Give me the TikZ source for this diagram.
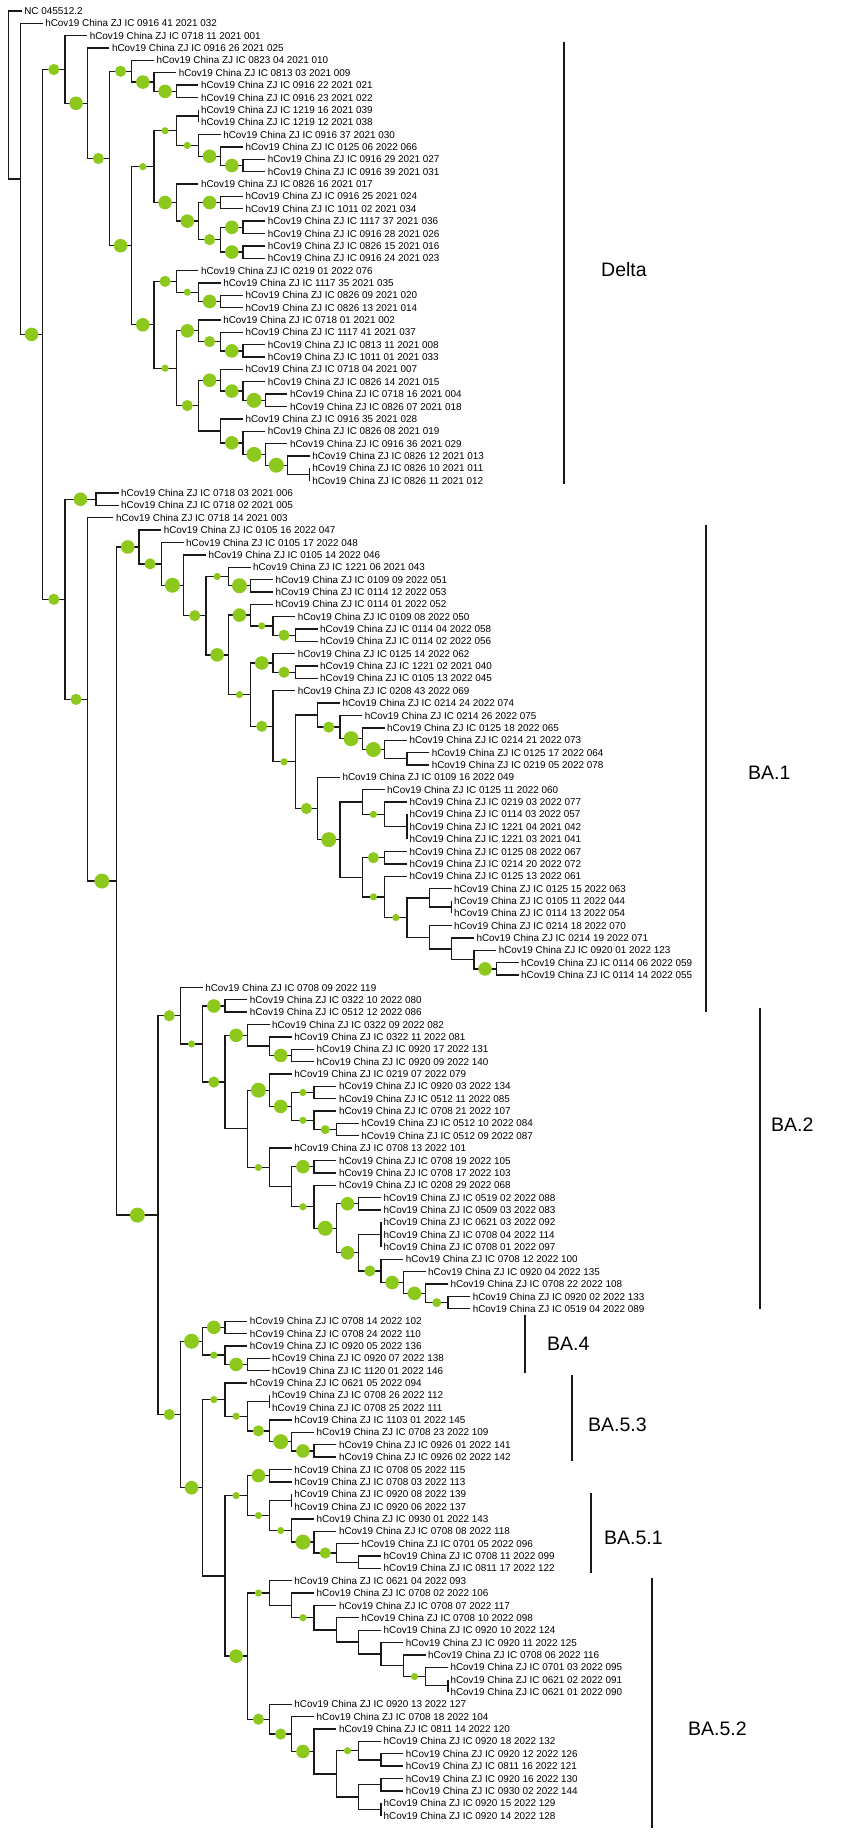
\documentclass[tikz,border=0pt]{standalone}
\usepackage{fontspec}
\setmainfont{Liberation Sans}
\usetikzlibrary{calc}
\pgfdeclarelayer{fg}
\pgfsetlayers{main,fg}
\definecolor{bsg}{RGB}{141,200,28}
\definecolor{ln}{RGB}{25,25,25}
\tikzset{
  br/.style={draw=ln, line width=1.35pt, line join=miter},
  lab/.style={anchor=west, inner xsep=2.4pt, inner ysep=0pt, font=\fontsize{9.9}{10}\selectfont, text height=7.1pt, text depth=0pt},
  cbar/.style={draw=ln, line width=1.5pt},
  clab/.style={anchor=west, inner sep=0pt, font=\fontsize{19.5}{20}\selectfont},
  bS/.style={circle, fill=bsg, inner sep=0pt, minimum size=7.2pt},
  bP/.style={circle, fill=bsg, inner sep=0pt, minimum size=9pt},
  bM/.style={circle, fill=bsg, inner sep=0pt, minimum size=11.2pt},
  bL/.style={circle, fill=bsg, inner sep=0pt, minimum size=13.6pt},
  bX/.style={circle, fill=bsg, inner sep=0pt, minimum size=15pt},
}
\newcommand\leafx[3]{\coordinate (l#1) at (#2,{11+12.36*#1}); \node[lab] (t#1) at (l#1) {hCov19 China ZJ IC #3};}
\newcommand\inode[4]{\path let \p1=(#3),\p2=(#4) in coordinate (#1) at (#2pt,{0.5*(\y1+\y2)}); \draw[br] (#3) -| (#1) |- (#4);}
\newcommand\supp[3]{\begin{pgfonlayer}{fg}\path let \p1=(#1),\p2=(#2) in node[#3] (c#2) at ({0.5*(\x1+\x2)},\y2) {};\end{pgfonlayer}}
\begin{document}
\begin{tikzpicture}[x=1pt,y=-1pt]
\fill[white] (0,0) rectangle (851,1838);
\useasboundingbox (0,0) rectangle (851,1838);
% leaves
\coordinate (l0) at (21.7,11); \node[lab] (t0) at (l0) {NC 045512.2};
\leafx{1}{42.7}{0916 41 2021 032}
\leafx{2}{87.2}{0718 11 2021 001}
\leafx{3}{109.45}{0916 26 2021 025}
\leafx{4}{153.95}{0823 04 2021 010}
\leafx{5}{176.2}{0813 03 2021 009}
\leafx{6}{198.45}{0916 22 2021 021}
\leafx{7}{198.45}{0916 23 2021 022}
\leafx{8}{198.45}{1219 16 2021 039}
\leafx{9}{198.45}{1219 12 2021 038}
\leafx{10}{220.7}{0916 37 2021 030}
\leafx{11}{242.95}{0125 06 2022 066}
\leafx{12}{265.2}{0916 29 2021 027}
\leafx{13}{265.2}{0916 39 2021 031}
\leafx{14}{198.45}{0826 16 2021 017}
\leafx{15}{242.95}{0916 25 2021 024}
\leafx{16}{242.95}{1011 02 2021 034}
\leafx{17}{265.2}{1117 37 2021 036}
\leafx{18}{265.2}{0916 28 2021 026}
\leafx{19}{265.2}{0826 15 2021 016}
\leafx{20}{265.2}{0916 24 2021 023}
\leafx{21}{198.45}{0219 01 2022 076}
\leafx{22}{220.7}{1117 35 2021 035}
\leafx{23}{242.95}{0826 09 2021 020}
\leafx{24}{242.95}{0826 13 2021 014}
\leafx{25}{220.7}{0718 01 2021 002}
\leafx{26}{242.95}{1117 41 2021 037}
\leafx{27}{265.2}{0813 11 2021 008}
\leafx{28}{265.2}{1011 01 2021 033}
\leafx{29}{242.95}{0718 04 2021 007}
\leafx{30}{265.2}{0826 14 2021 015}
\leafx{31}{287.45}{0718 16 2021 004}
\leafx{32}{287.45}{0826 07 2021 018}
\leafx{33}{242.95}{0916 35 2021 028}
\leafx{34}{265.2}{0826 08 2021 019}
\leafx{35}{287.45}{0916 36 2021 029}
\leafx{36}{309.7}{0826 12 2021 013}
\leafx{37}{309.7}{0826 10 2021 011}
\leafx{38}{309.7}{0826 11 2021 012}
\leafx{39}{118.6}{0718 03 2021 006}
\leafx{40}{118.6}{0718 02 2021 005}
\leafx{41}{113.4}{0718 14 2021 003}
\leafx{42}{161.2}{0105 16 2022 047}
\leafx{43}{183.6}{0105 17 2022 048}
\leafx{44}{205.9}{0105 14 2022 046}
\leafx{45}{250.6}{1221 06 2021 043}
\leafx{46}{272.9}{0109 09 2022 051}
\leafx{47}{272.9}{0114 12 2022 053}
\leafx{48}{272.9}{0114 01 2022 052}
\leafx{49}{295.2}{0109 08 2022 050}
\leafx{50}{317.6}{0114 04 2022 058}
\leafx{51}{317.6}{0114 02 2022 056}
\leafx{52}{295.2}{0125 14 2022 062}
\leafx{53}{317.6}{1221 02 2021 040}
\leafx{54}{317.6}{0105 13 2022 045}
\leafx{55}{295.2}{0208 43 2022 069}
\leafx{56}{339.9}{0214 24 2022 074}
\leafx{57}{362.2}{0214 26 2022 075}
\leafx{58}{384.6}{0125 18 2022 065}
\leafx{59}{406.9}{0214 21 2022 073}
\leafx{60}{429.2}{0125 17 2022 064}
\leafx{61}{429.2}{0219 05 2022 078}
\leafx{62}{339.9}{0109 16 2022 049}
\leafx{63}{384.6}{0125 11 2022 060}
\leafx{64}{406.9}{0219 03 2022 077}
\leafx{65}{406.9}{0114 03 2022 057}
\leafx{66}{406.9}{1221 04 2021 042}
\leafx{67}{406.9}{1221 03 2021 041}
\leafx{68}{406.9}{0125 08 2022 067}
\leafx{69}{406.9}{0214 20 2022 072}
\leafx{70}{406.9}{0125 13 2022 061}
\leafx{71}{451.6}{0125 15 2022 063}
\leafx{72}{451.6}{0105 11 2022 044}
\leafx{73}{451.6}{0114 13 2022 054}
\leafx{74}{451.6}{0214 18 2022 070}
\leafx{75}{473.9}{0214 19 2022 071}
\leafx{76}{496.2}{0920 01 2022 123}
\leafx{77}{518.5}{0114 06 2022 059}
\leafx{78}{518.5}{0114 14 2022 055}
\leafx{79}{202.7}{0708 09 2022 119}
\leafx{80}{247.3}{0322 10 2022 080}
\leafx{81}{247.3}{0512 12 2022 086}
\leafx{82}{269.6}{0322 09 2022 082}
\leafx{83}{291.8}{0322 11 2022 081}
\leafx{84}{314.1}{0920 17 2022 131}
\leafx{85}{314.1}{0920 09 2022 140}
\leafx{86}{291.8}{0219 07 2022 079}
\leafx{87}{336.4}{0920 03 2022 134}
\leafx{88}{336.4}{0512 11 2022 085}
\leafx{89}{336.4}{0708 21 2022 107}
\leafx{90}{358.7}{0512 10 2022 084}
\leafx{91}{358.7}{0512 09 2022 087}
\leafx{92}{291.8}{0708 13 2022 101}
\leafx{93}{336.4}{0708 19 2022 105}
\leafx{94}{336.4}{0708 17 2022 103}
\leafx{95}{336.4}{0208 29 2022 068}
\leafx{96}{381.0}{0519 02 2022 088}
\leafx{97}{381.0}{0509 03 2022 083}
\leafx{98}{381.0}{0621 03 2022 092}
\leafx{99}{381.0}{0708 04 2022 114}
\leafx{100}{381.0}{0708 01 2022 097}
\leafx{101}{403.3}{0708 12 2022 100}
\leafx{102}{425.6}{0920 04 2022 135}
\leafx{103}{447.9}{0708 22 2022 108}
\leafx{104}{470.2}{0920 02 2022 133}
\leafx{105}{470.2}{0519 04 2022 089}
\leafx{106}{247.3}{0708 14 2022 102}
\leafx{107}{247.3}{0708 24 2022 110}
\leafx{108}{247.3}{0920 05 2022 136}
\leafx{109}{269.6}{0920 07 2022 138}
\leafx{110}{269.6}{1120 01 2022 146}
\leafx{111}{247.3}{0621 05 2022 094}
\leafx{112}{269.6}{0708 26 2022 112}
\leafx{113}{269.6}{0708 25 2022 111}
\leafx{114}{291.8}{1103 01 2022 145}
\leafx{115}{314.1}{0708 23 2022 109}
\leafx{116}{336.4}{0926 01 2022 141}
\leafx{117}{336.4}{0926 02 2022 142}
\leafx{118}{291.8}{0708 05 2022 115}
\leafx{119}{291.8}{0708 03 2022 113}
\leafx{120}{291.8}{0920 08 2022 139}
\leafx{121}{291.8}{0920 06 2022 137}
\leafx{122}{314.1}{0930 01 2022 143}
\leafx{123}{336.4}{0708 08 2022 118}
\leafx{124}{358.7}{0701 05 2022 096}
\leafx{125}{381.0}{0708 11 2022 099}
\leafx{126}{381.0}{0811 17 2022 122}
\leafx{127}{291.8}{0621 04 2022 093}
\leafx{128}{314.1}{0708 02 2022 106}
\leafx{129}{336.4}{0708 07 2022 117}
\leafx{130}{358.7}{0708 10 2022 098}
\leafx{131}{381.0}{0920 10 2022 124}
\leafx{132}{403.3}{0920 11 2022 125}
\leafx{133}{425.6}{0708 06 2022 116}
\leafx{134}{447.9}{0701 03 2022 095}
\leafx{135}{447.9}{0621 02 2022 091}
\leafx{136}{447.9}{0621 01 2022 090}
\leafx{137}{291.8}{0920 13 2022 127}
\leafx{138}{314.1}{0708 18 2022 104}
\leafx{139}{336.4}{0811 14 2022 120}
\leafx{140}{381.0}{0920 18 2022 132}
\leafx{141}{403.3}{0920 12 2022 126}
\leafx{142}{403.3}{0811 16 2022 121}
\leafx{143}{403.3}{0920 16 2022 130}
\leafx{144}{403.3}{0930 02 2022 144}
\leafx{145}{381.0}{0920 15 2022 129}
\leafx{146}{381.0}{0920 14 2022 128}
% Delta clade
\inode{G3}{176.2}{l6}{l7}
\inode{G2}{153.95}{l5}{G3}
\inode{G}{131.7}{l4}{G2}
\inode{Z1}{198.45}{l8}{l9}
\inode{H1e}{242.95}{l12}{l13}
\inode{H1d}{220.7}{l11}{H1e}
\inode{H1c}{198.45}{l10}{H1d}
\inode{H1a}{176.2}{Z1}{H1c}
\inode{H1g}{220.7}{l15}{l16}
\inode{H1i}{242.95}{l17}{l18}
\inode{H1j}{242.95}{l19}{l20}
\inode{H1h}{220.7}{H1i}{H1j}
\inode{H1f}{198.45}{H1g}{H1h}
\inode{H1b}{176.2}{l14}{H1f}
\inode{H1}{153.95}{H1a}{H1b}
\inode{H2e}{220.7}{l23}{l24}
\inode{H2d}{198.45}{l22}{H2e}
\inode{H2a}{176.2}{l21}{H2d}
\inode{H2i}{242.95}{l27}{l28}
\inode{H2h}{220.7}{l26}{H2i}
\inode{H2f}{198.45}{l25}{H2h}
\inode{H2n}{265.2}{l31}{l32}
\inode{H2m}{242.95}{l30}{H2n}
\inode{H2j}{220.7}{l29}{H2m}
\inode{Z2}{309.7}{l37}{l38}
\inode{H2p}{287.45}{l36}{Z2}
\inode{H2o}{265.2}{l35}{H2p}
\inode{H2l}{242.95}{l34}{H2o}
\inode{H2k}{220.7}{l33}{H2l}
\inode{H2g}{198.45}{H2j}{H2k}
\inode{H2b}{176.2}{H2f}{H2g}
\inode{H2}{153.95}{H2a}{H2b}
\inode{H}{131.7}{H1}{H2}
\inode{F}{109.45}{G}{H}
\inode{E}{87.2}{l3}{F}
\inode{C}{64.95}{l2}{E}
\inode{D1}{96}{l39}{l40}
% BA.1 clade
\inode{E1f}{250.6}{l46}{l47}
\inode{E1d}{228.3}{l45}{E1f}
\inode{E1j}{295.2}{l50}{l51}
\inode{E1i}{272.9}{l49}{E1j}
\inode{E1g}{250.6}{l48}{E1i}
\inode{E1m}{295.2}{l53}{l54}
\inode{E1k}{272.9}{l52}{E1m}
\inode{E1t}{406.9}{l60}{l61}
\inode{E1s}{384.6}{l59}{E1t}
\inode{E1r}{362.2}{l58}{E1s}
\inode{E1q}{339.9}{l57}{E1r}
\inode{E1o}{317.6}{l56}{E1q}
\inode{Z3}{406.9}{l65}{l67}
\inode{E1w}{384.6}{l64}{Z3}
\inode{E1v}{362.2}{l63}{E1w}
\inode{E1y}{384.6}{l68}{l69}
\inode{Z4}{451.6}{l72}{l73}
\inode{E2b}{429.2}{l71}{Z4}
\inode{E2f}{496.2}{l77}{l78}
\inode{E2e}{473.9}{l76}{E2f}
\inode{E2d}{451.6}{l75}{E2e}
\inode{E2c}{429.2}{l74}{E2d}
\inode{E2a}{406.9}{E2b}{E2c}
\inode{E1z}{384.6}{l70}{E2a}
\inode{E1x}{362.2}{E1y}{E1z}
\inode{E1u}{339.9}{E1v}{E1x}
\inode{E1p}{317.6}{l62}{E1u}
\inode{E1n}{295.2}{E1o}{E1p}
\inode{E1l}{272.9}{l55}{E1n}
\inode{E1h}{250.6}{E1k}{E1l}
\inode{E1e}{228.3}{E1g}{E1h}
\inode{E1c}{205.9}{E1d}{E1e}
\inode{E1b}{183.6}{l44}{E1c}
\inode{E1a}{161.3}{l43}{E1b}
\inode{E1}{138.9}{l42}{E1a}
% BA.2 clade
\inode{F1b}{225.0}{l80}{l81}
\inode{F1g}{291.8}{l84}{l85}
\inode{F1f}{269.6}{l83}{F1g}
\inode{F1d}{247.3}{l82}{F1f}
\inode{F1k}{314.1}{l87}{l88}
\inode{F1m}{336.4}{l90}{l91}
\inode{F1l}{314.1}{l89}{F1m}
\inode{F1j}{291.8}{F1k}{F1l}
\inode{F1h}{269.6}{l86}{F1j}
\inode{F1o}{314.1}{l93}{l94}
\inode{F1s}{358.7}{l96}{l97}
\inode{Z5}{381.0}{l98}{l100}
\inode{F1x}{447.9}{l104}{l105}
\inode{F1w}{425.6}{l103}{F1x}
\inode{F1v}{403.3}{l102}{F1w}
\inode{F1u}{381.0}{l101}{F1v}
\inode{F1t}{358.7}{Z5}{F1u}
\inode{F1r}{336.4}{F1s}{F1t}
\inode{F1q}{314.1}{l95}{F1r}
\inode{F1p}{291.8}{F1o}{F1q}
\inode{F1i}{269.6}{l92}{F1p}
\inode{F1e}{247.3}{F1h}{F1i}
\inode{F1c}{225.0}{F1d}{F1e}
\inode{F1a}{202.7}{F1b}{F1c}
\inode{F1}{180.4}{l79}{F1a}
% BA.4
\inode{F2c}{225.0}{l106}{l107}
\inode{F2e}{247.3}{l109}{l110}
\inode{F2d}{225.0}{l108}{F2e}
\inode{F2a}{202.7}{F2c}{F2d}
% BA.5.3
\inode{Z6}{269.6}{l112}{l113}
\inode{F2k}{314.1}{l116}{l117}
\inode{F2j}{291.8}{l115}{F2k}
\inode{F2i}{269.6}{l114}{F2j}
\inode{F2h}{247.3}{Z6}{F2i}
\inode{F2f}{225.0}{l111}{F2h}
% BA.5.1
\inode{F2n}{269.6}{l118}{l119}
\inode{Z7}{291.8}{l120}{l121}
\inode{F2s}{358.7}{l125}{l126}
\inode{F2r}{336.4}{l124}{F2s}
\inode{F2q}{314.1}{l123}{F2r}
\inode{F2p}{291.8}{l122}{F2q}
\inode{F2o}{269.6}{Z7}{F2p}
\inode{F2l}{247.3}{F2n}{F2o}
% BA.5.2
\inode{Z8}{447.9}{l135}{l136}
\inode{G2b}{425.6}{l134}{Z8}
\inode{G1}{403.3}{l133}{G2b}
\inode{F2z}{381.0}{l132}{G1}
\inode{F2y}{358.7}{l131}{F2z}
\inode{F2x}{336.4}{l130}{F2y}
\inode{F2v}{314.1}{l129}{F2x}
\inode{F2w}{291.8}{l128}{F2v}
\inode{F2t}{269.6}{l127}{F2w}
\inode{F3f}{381.0}{l141}{l142}
\inode{F3d}{358.7}{l140}{F3f}
\inode{F3g}{381.0}{l143}{l144}
\inode{Z9}{381.0}{l145}{l146}
\inode{F3e}{358.7}{F3g}{Z9}
\inode{F3c}{336.4}{F3d}{F3e}
\inode{F3b}{314.1}{l139}{F3c}
\inode{F3a}{291.8}{l138}{F3b}
\inode{F2u}{269.6}{l137}{F3a}
\inode{F2m}{247.3}{F2t}{F2u}
\inode{F2g}{225.0}{F2l}{F2m}
\inode{F2b}{202.7}{F2f}{F2g}
\inode{F2}{180.4}{F2a}{F2b}
\inode{E2}{158.1}{F1}{F2}
\inode{D3}{116.6}{E1}{E2}
\inode{D2}{87.2}{l41}{D3}
\inode{D}{64.95}{D1}{D2}
\inode{B}{42.7}{C}{D}
\inode{A}{20.45}{l1}{B}
\inode{R}{8.7}{l0}{A}
% support circles (parent, child, size)
\supp{G2}{G3}{bL} \supp{G}{G2}{bL} \supp{F}{G}{bM}
\supp{H1d}{H1e}{bL} \supp{H1c}{H1d}{bL} \supp{H1a}{H1c}{bS} \supp{H1}{H1a}{bS}
\supp{H1f}{H1g}{bL} \supp{H1h}{H1i}{bL} \supp{H1h}{H1j}{bL} \supp{H1f}{H1h}{bM}
\supp{H1b}{H1f}{bL} \supp{H1}{H1b}{bL} \supp{H}{H1}{bS}
\supp{H2d}{H2e}{bL} \supp{H2a}{H2d}{bS} \supp{H2}{H2a}{bM}
\supp{H2h}{H2i}{bL} \supp{H2f}{H2h}{bM} \supp{H2b}{H2f}{bL}
\supp{H2m}{H2n}{bX} \supp{H2j}{H2m}{bL} \supp{H2g}{H2j}{bL}
\supp{H2o}{H2p}{bX} \supp{H2l}{H2o}{bX} \supp{H2k}{H2l}{bL}
\supp{H2b}{H2g}{bM} \supp{H2}{H2b}{bS} \supp{H}{H2}{bL}
\supp{F}{H}{bL} \supp{E}{F}{bM} \supp{C}{E}{bL} \supp{B}{C}{bM}
\supp{D}{D1}{bL}
\supp{E1d}{E1f}{bX} \supp{E1c}{E1d}{bS} \supp{E1i}{E1j}{bM} \supp{E1g}{E1i}{bS}
\supp{E1e}{E1g}{bL} \supp{E1k}{E1m}{bM} \supp{E1h}{E1k}{bL}
\supp{E1r}{E1s}{bX} \supp{E1q}{E1r}{bX} \supp{E1o}{E1q}{bM}
\supp{E1v}{E1w}{bS} \supp{E1x}{E1y}{bM} \supp{E2e}{E2f}{bL}
\supp{E1z}{E2a}{bS} \supp{E1x}{E1z}{bS} \supp{E1p}{E1u}{bX}
\supp{E1n}{E1p}{bM} \supp{E1l}{E1n}{bS} \supp{E1h}{E1l}{bM}
\supp{E1e}{E1h}{bS} \supp{E1c}{E1e}{bL} \supp{E1b}{E1c}{bM}
\supp{E1a}{E1b}{bX} \supp{E1}{E1a}{bM} \supp{D3}{E1}{bL}
\supp{F1a}{F1b}{bL} \supp{F1f}{F1g}{bL} \supp{F1c}{F1d}{bL}
\supp{F1j}{F1k}{bS} \supp{F1l}{F1m}{bP} \supp{F1j}{F1l}{bS}
\supp{F1h}{F1j}{bL} \supp{F1e}{F1h}{bX} \supp{F1p}{F1o}{bL}
\supp{F1r}{F1s}{bL} \supp{F1w}{F1x}{bP} \supp{F1v}{F1w}{bL}
\supp{F1u}{F1v}{bL} \supp{F1t}{F1u}{bM} \supp{F1r}{F1t}{bL}
\supp{F1q}{F1r}{bX} \supp{F1p}{F1q}{bS} \supp{F1e}{F1i}{bS}
\supp{F1a}{F1c}{bM} \supp{F1}{F1a}{bS} \supp{E2}{F1}{bM}
\supp{F2a}{F2c}{bL} \supp{F2d}{F2e}{bL} \supp{F2a}{F2d}{bS} \supp{F2}{F2a}{bX}
\supp{F2j}{F2k}{bL} \supp{F2i}{F2j}{bX} \supp{F2h}{F2i}{bM}
\supp{F2f}{F2h}{bS} \supp{F2b}{F2f}{bS}
\supp{F2l}{F2n}{bL} \supp{F2q}{F2r}{bM} \supp{F2p}{F2q}{bX}
\supp{F2o}{F2p}{bS} \supp{F2l}{F2o}{bS} \supp{F2g}{F2l}{bS}
\supp{G1}{G2b}{bS} \supp{F2w}{F2v}{bS} \supp{F2m}{F2t}{bS}
\supp{F3c}{F3d}{bS} \supp{F3a}{F3b}{bL} \supp{F2u}{F3a}{bM}
\supp{F2m}{F2u}{bM} \supp{F2g}{F2m}{bL}
\supp{F2}{F2b}{bL} \supp{E2}{F2}{bM} \supp{D3}{E2}{bX}
\supp{D2}{D3}{bX} \supp{D}{D2}{bM} \supp{B}{D}{bM} \supp{A}{B}{bL}
% clade bars and labels
\coordinate (dT) at (564,41.7); \coordinate (dB) at (564,484);
\draw[cbar] (dT) -- (dB); \node[clab] (dL) at (601,270) {Delta};
\coordinate (b1T) at (706,525); \coordinate (b1B) at (706,1012);
\draw[cbar] (b1T) -- (b1B); \node[clab] (b1L) at (748,773) {BA.1};
\coordinate (b2T) at (760,1008); \coordinate (b2B) at (760,1309);
\draw[cbar] (b2T) -- (b2B); \node[clab] (b2L) at (771,1125) {BA.2};
\coordinate (b4T) at (525,1315); \coordinate (b4B) at (525,1373);
\draw[cbar] (b4T) -- (b4B); \node[clab] (b4L) at (547,1344) {BA.4};
\coordinate (b53T) at (572,1375); \coordinate (b53B) at (572,1461);
\draw[cbar] (b53T) -- (b53B); \node[clab] (b53L) at (588,1425) {BA.5.3};
\coordinate (b51T) at (591,1493); \coordinate (b51B) at (591,1573);
\draw[cbar] (b51T) -- (b51B); \node[clab] (b51L) at (604,1538) {BA.5.1};
\coordinate (b52T) at (652,1578); \coordinate (b52B) at (652,1828);
\draw[cbar] (b52T) -- (b52B); \node[clab] (b52L) at (688,1729) {BA.5.2};
\end{tikzpicture}
\end{document}
